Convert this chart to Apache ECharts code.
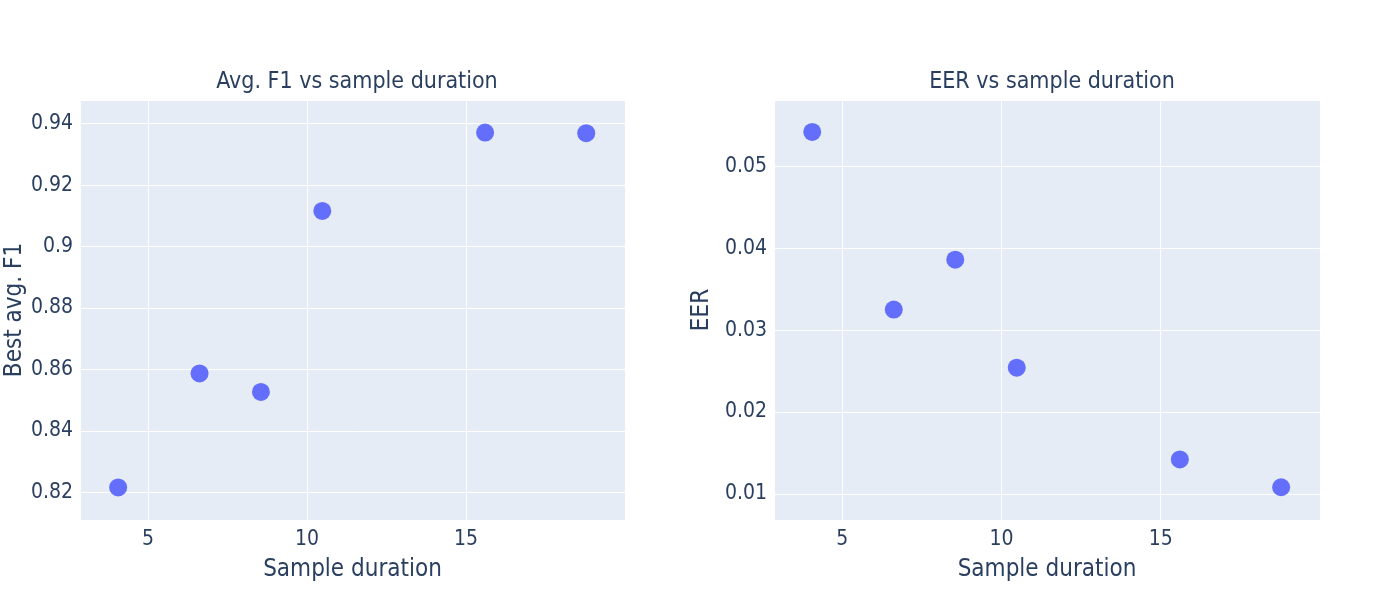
<!DOCTYPE html>
<html>
<head>
<meta charset="utf-8">
<script src="https://cdn.jsdelivr.net/npm/echarts@6/dist/echarts.min.js"></script>
<style>
html,body{margin:0;padding:0;background:#fff;}
#chart{width:1400px;height:600px;}
</style>
</head>
<body>
<div id="chart"></div>
<script>
// Data
var durations = [4.06, 6.62, 8.55, 10.48, 15.6, 18.78];
var bestAvgF1 = [0.8216, 0.8587, 0.8527, 0.9116, 0.9371, 0.9369];
var eerValues = [0.0542, 0.0325, 0.0386, 0.0254, 0.0142, 0.0108];
var titles = ['Avg. F1 vs sample duration', 'EER vs sample duration'];
var xAxisTitle = 'Sample duration';
var yAxisTitles = ['Best avg. F1', 'EER'];

var FONT = '"Liberation Sans Narrow", "DejaVu Sans Condensed", "Roboto", sans-serif';
var TXT = '#2a3f5f';
var MARK = '#636efa';

function pairs(xs, ys) {
  return xs.map(function (x, i) { return [x, ys[i]]; });
}

function xAxisCfg(idx) {
  return {
    type: 'value', gridIndex: idx, min: 2.86, max: 20.0, splitNumber: 3,
    name: xAxisTitle, nameLocation: 'middle', nameGap: 38,
    nameTextStyle: { fontFamily: FONT, fontSize: 24, color: TXT },
    axisLine: { show: false }, axisTick: { show: false },
    axisLabel: { fontFamily: FONT, fontSize: 21, color: TXT, margin: 9, showMinLabel: false, showMaxLabel: false },
    splitLine: { show: true, lineStyle: { color: '#ffffff', width: 1 } }
  };
}
function yAxisCfg(idx, min, max, split, gap, name) {
  return {
    type: 'value', gridIndex: idx, min: min, max: max, splitNumber: split,
    name: name, nameLocation: 'middle', nameGap: gap, nameRotate: 90,
    nameTextStyle: { fontFamily: FONT, fontSize: 24, color: TXT },
    axisLine: { show: false }, axisTick: { show: false },
    axisLabel: { fontFamily: FONT, fontSize: 21, color: TXT, margin: 7, showMinLabel: false, showMaxLabel: false },
    splitLine: { show: true, lineStyle: { color: '#ffffff', width: 1 } }
  };
}

var chart = echarts.init(document.getElementById('chart'), null, { renderer: 'canvas' });
chart.setOption({
  backgroundColor: '#ffffff',
  animation: false,
  textStyle: { fontFamily: FONT },
  title: [
    { text: titles[0], left: 352, top: 66, textAlign: 'center',
      textStyle: { fontFamily: FONT, fontSize: 23, fontWeight: 'normal', color: TXT } },
    { text: titles[1], left: 1047, top: 66, textAlign: 'center',
      textStyle: { fontFamily: FONT, fontSize: 23, fontWeight: 'normal', color: TXT } }
  ],
  grid: [
    { left: 80, top: 100, width: 545, height: 420, show: true, backgroundColor: '#E5ECF6', borderWidth: 0, containLabel: false },
    { left: 774, top: 100, width: 546, height: 420, show: true, backgroundColor: '#E5ECF6', borderWidth: 0, containLabel: false }
  ],
  xAxis: [xAxisCfg(0), xAxisCfg(1)],
  yAxis: [
    yAxisCfg(0, 0.811, 0.9477, 7, 51, yAxisTitles[0]),
    yAxisCfg(1, 0.0068, 0.0581, 5, 60, yAxisTitles[1])
  ],
  series: [
    { type: 'scatter', xAxisIndex: 0, yAxisIndex: 0, data: pairs(durations, bestAvgF1),
      symbol: 'circle', symbolSize: 18, itemStyle: { color: MARK, opacity: 1 } },
    { type: 'scatter', xAxisIndex: 1, yAxisIndex: 1, data: pairs(durations, eerValues),
      symbol: 'circle', symbolSize: 18, itemStyle: { color: MARK, opacity: 1 } }
  ]
});
</script>
</body>
</html>
